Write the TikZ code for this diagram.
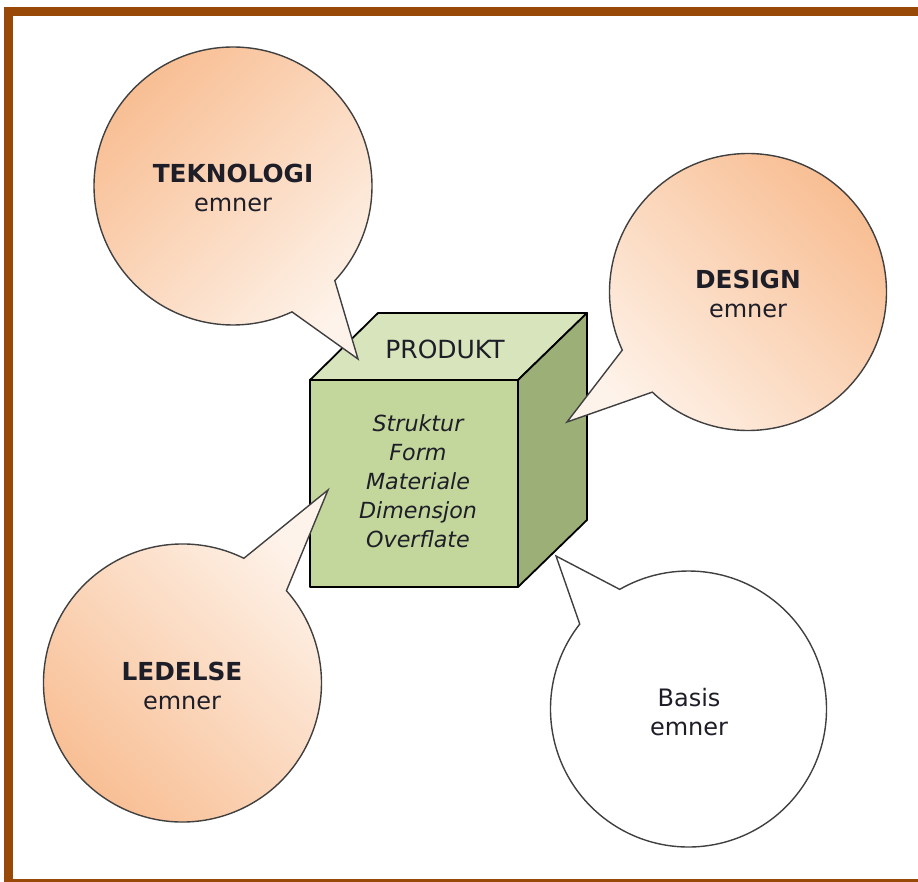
\documentclass[tikz,border=0pt]{standalone}
\usepackage{fontspec}
\setmainfont{DejaVu Sans}
\definecolor{framec}{HTML}{984807}
\definecolor{orD}{HTML}{F8BC90}
\definecolor{orL}{HTML}{FEF3EA}
\definecolor{cubeF}{HTML}{C3D69B}
\definecolor{cubeT}{HTML}{D7E4BC}
\definecolor{cubeS}{HTML}{9BAF77}
\definecolor{txt}{HTML}{1E1E28}
\newcommand{\bigbold}[1]{{\fontsize{24.8}{29}\selectfont\bfseries #1}}
\begin{document}
\begin{tikzpicture}[x=1pt,y=1pt,
  bubble/.style={draw=black!75, line width=1.4pt, line join=miter},
  cubeface/.style={draw=black, line width=1.8pt, line join=round},
  lbl/.style={align=center, text=txt, font=\fontsize{24}{29}\selectfont, inner sep=0pt}]
\useasboundingbox (0,0) rectangle (918,-882);
\clip (0,0) rectangle (918,-882);
\fill[white] (0,0) rectangle (918,-882);
\draw[framec, line width=8.5pt] (8.5,-11.5) rectangle (940,-883.5);

% cube
\coordinate (fTL) at (310,-380);
\coordinate (fTR) at (518,-380);
\coordinate (fBR) at (518,-587);
\coordinate (fBL) at (310,-587);
\coordinate (bTL) at (378,-313);
\coordinate (bTR) at (587,-313);
\coordinate (bBR) at (587,-520);
\filldraw[cubeface, fill=cubeF] (fTL) -- (fTR) -- (fBR) -- (fBL) -- cycle;
\filldraw[cubeface, fill=cubeT] (fTL) -- (bTL) -- (bTR) -- (fTR) -- cycle;
\filldraw[cubeface, fill=cubeS] (fTR) -- (bTR) -- (bBR) -- (fBR) -- cycle;
\node[lbl, font=\fontsize{25}{29}\selectfont] (produkt) at (445,-349) {PRODUKT};
\node[lbl, font=\fontsize{22.2}{29}\selectfont\itshape] (props) at (418,-481)
  {Struktur\\Form\\Materiale\\Dimensjon\\Overflate};

% TEKNOLOGI bubble
\coordinate (cT) at (233,-186);
\coordinate (tipT) at (358,-359);
\shadedraw[bubble, top color=orD, bottom color=orL, shading angle=45]
  (cT) ++(-42.9:139) arc[start angle=-42.9, end angle=295.1, radius=139] -- (tipT) -- cycle;
\node[lbl] (tek) at (233,-188) {\bigbold{TEKNOLOGI}\\emner};

% DESIGN bubble
\coordinate (cD) at (748,-292);
\coordinate (tipD) at (567,-422);
\shadedraw[bubble, top color=orD, bottom color=orL, shading angle=-45]
  (cD) ++(226.3:138.5) arc[start angle=226.3, end angle=564.8, radius=138.5] -- (tipD) -- cycle;
\node[lbl] (des) at (748,-294) {\bigbold{DESIGN}\\emner};

% LEDELSE bubble
\coordinate (cL) at (182.5,-683);
\coordinate (tipL) at (328,-490);
\shadedraw[bubble, top color=orL, bottom color=orD, shading angle=-45]
  (cL) ++(63.8:139) arc[start angle=63.8, end angle=401.6, radius=139] -- (tipL) -- cycle;
\node[lbl] (led) at (182,-686) {\bigbold{LEDELSE}\\emner};

% Basis bubble
\coordinate (cB) at (688.5,-709);
\coordinate (tipB) at (556,-556);
\filldraw[bubble, fill=white]
  (cB) ++(142:138) arc[start angle=142, end angle=479.9, radius=138] -- (tipB) -- cycle;
\node[lbl] (bas) at (689,-712) {Basis\\emner};
\end{tikzpicture}
\end{document}
